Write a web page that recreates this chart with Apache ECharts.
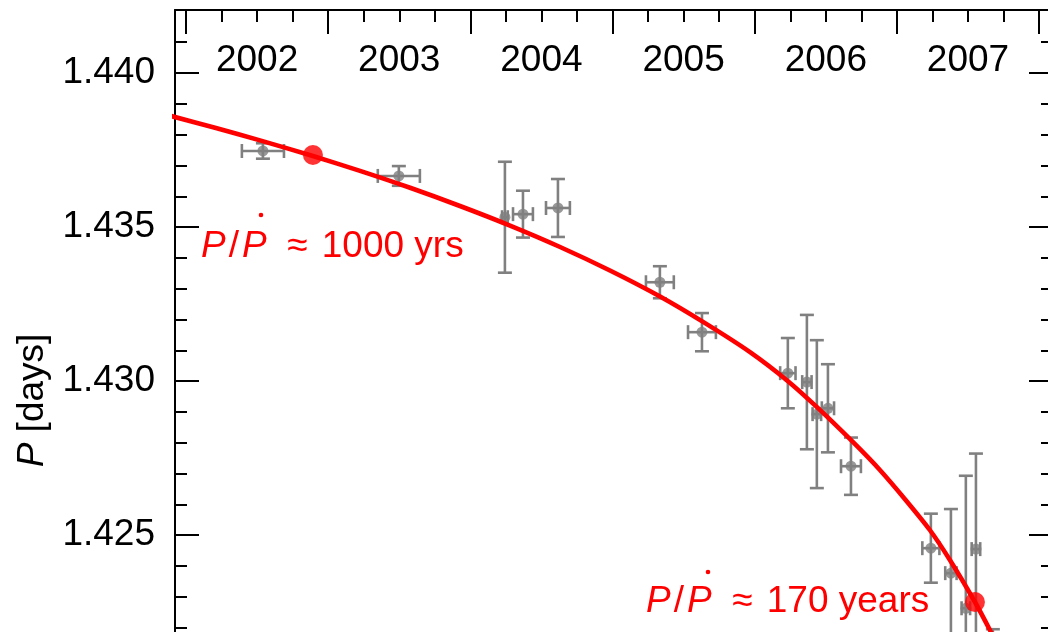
<!DOCTYPE html>
<html>
<head>
<meta charset="utf-8">
<script src="https://cdn.jsdelivr.net/npm/echarts@6/dist/echarts.min.js"></script>
<style>
  html, body { margin: 0; padding: 0; background: #ffffff; }
  #chart { width: 1048px; height: 632px; }
</style>
</head>
<body>
<div id="chart"></div>
<script>
// Orbital period measurements: epoch (yr), period (days) and their 1-sigma errors
const epoch     = [2002.541, 2003.497, 2004.243, 2004.370, 2004.616, 2005.333, 2005.629, 2006.233, 2006.367, 2006.437, 2006.515, 2006.677, 2007.239, 2007.380, 2007.485, 2007.556, 2007.675];
const epochErr  = [0.148, 0.148, 0.02, 0.07, 0.084, 0.098, 0.098, 0.054, 0.033, 0.03, 0.043, 0.07, 0.06, 0.04, 0.03, 0.03, 0.04];
const period    = [1.43747, 1.43666, 1.43532, 1.43542, 1.43562, 1.43321, 1.43159, 1.43026, 1.42997, 1.42893, 1.42912, 1.42724, 1.42458, 1.42377, 1.42263, 1.42455, 1.42105];
const periodErr = [0.00025, 0.00032, 0.0018, 0.00076, 0.00094, 0.00052, 0.00062, 0.00114, 0.00218, 0.0024, 0.00143, 0.00093, 0.00112, 0.00208, 0.0043, 0.0031, 0.0009];

// Fitted period-decay curve
const fitEpoch  = [2001.8875, 2002.204, 2002.5205, 2002.893, 2003.224, 2003.576, 2003.927, 2004.279, 2004.631, 2004.982, 2005.334, 2005.651, 2005.967, 2006.234, 2006.438, 2006.692, 2006.882, 2007.057, 2007.233, 2007.374, 2007.550, 2007.655, 2007.761, 2007.866];
const fitPeriod = [1.438614, 1.438224, 1.437815, 1.437305, 1.436825, 1.436276, 1.435685, 1.435049, 1.434354, 1.433591, 1.432747, 1.431883, 1.430942, 1.430000, 1.429156, 1.428019, 1.427110, 1.426169, 1.425162, 1.424188, 1.422825, 1.421916, 1.420942, 1.419903];

// Epochs at which the decay timescale P/Pdot is quoted
const markEpoch  = [2002.893, 2007.549];
const markPeriod = [1.43734, 1.42283];
const markText   = ['1000 yrs', '170 years'];

// Axis ticks and labels
const yearTicks   = [2002, 2003, 2004, 2005, 2006, 2007, 2008];
const yearLabels  = ['2002', '2003', '2004', '2005', '2006', '2007'];
const periodTicks = [1.420, 1.425, 1.430, 1.435, 1.440];
const periodLabels = ['1.420', '1.425', '1.430', '1.435', '1.440'];

const X_MIN = 2001.9226, X_MAX = 2008.098;
const Y_MIN = 1.4167,    Y_MAX = 1.442045;

const FONT = '"Liberation Sans", Arial, Helvetica, sans-serif';
const FS = 37;
const GRAY = '#808080';
const RED = '#ff0000';

// Minor ticks: quarter years, every 0.001 day
const yearMinor = [];
for (let y = 2002; y < 2008; y++) { [0.25, 0.5, 0.75].forEach(f => yearMinor.push(y + f)); }
const periodMinor = [];
for (let k = 1417; k <= 1441; k++) { if (k % 5 !== 0) periodMinor.push(k / 1000); }

const yearLabelPos = yearLabels.map(s => Number(s) + 0.5);

const tickLine = { color: '#000', width: 2 };

function xAxisBase(extra) {
  return Object.assign({
    type: 'value', position: 'top', min: X_MIN, max: X_MAX,
    splitLine: { show: false },
    axisLine: { show: true, lineStyle: tickLine }
  }, extra);
}
function yAxisBase(extra) {
  return Object.assign({
    type: 'value', min: Y_MIN, max: Y_MAX,
    splitLine: { show: false },
    axisLine: { show: true, lineStyle: tickLine }
  }, extra);
}

const errData = epoch.map((x, i) => [x, period[i], epochErr[i], periodErr[i]]);

const chart = echarts.init(document.getElementById('chart'), null, { renderer: 'canvas' });

chart.setOption({
  animation: false,
  backgroundColor: '#ffffff',
  grid: {
    left: 175, top: 10, right: -5, bottom: -159,
    containLabel: false, outerBoundsMode: 'none'
  },
  xAxis: [
    xAxisBase({
      axisTick: { show: true, inside: true, length: 24, customValues: yearTicks, lineStyle: tickLine },
      axisLabel: {
        show: true, inside: true, margin: 32, customValues: yearLabelPos,
        formatter: v => yearLabels[Math.round(v - 0.5) - 2002],
        color: '#000', fontSize: FS, fontFamily: FONT
      }
    }),
    xAxisBase({
      axisLine: { show: false },
      axisTick: { show: true, inside: true, length: 12, customValues: yearMinor, lineStyle: tickLine },
      axisLabel: { show: false }
    }),
    xAxisBase({
      position: 'bottom',
      axisTick: { show: true, inside: true, length: 24, customValues: yearTicks, lineStyle: tickLine },
      axisLabel: { show: false }
    })
  ],
  yAxis: [
    yAxisBase({
      position: 'left',
      axisTick: { show: true, inside: true, length: 24, customValues: periodTicks, lineStyle: tickLine },
      axisLabel: {
        show: true, margin: 20, customValues: periodTicks,
        formatter: v => periodLabels[periodTicks.findIndex(t => Math.abs(t - v) < 1e-7)],
        color: '#000', fontSize: FS, fontFamily: FONT
      },
      name: '{i|P} [days]',
      nameLocation: 'middle', nameRotate: 90, nameGap: 103,
      nameTextStyle: {
        color: '#000', fontSize: FS, fontFamily: FONT,
        rich: { i: { fontStyle: 'italic', fontSize: FS, fontFamily: FONT, color: '#000' } }
      }
    }),
    yAxisBase({
      position: 'left', axisLine: { show: false },
      axisTick: { show: true, inside: true, length: 12, customValues: periodMinor, lineStyle: tickLine },
      axisLabel: { show: false }
    }),
    yAxisBase({
      position: 'right',
      axisTick: { show: true, inside: true, length: 24, customValues: periodTicks, lineStyle: tickLine },
      axisLabel: { show: false }
    }),
    yAxisBase({
      position: 'right', axisLine: { show: false },
      axisTick: { show: true, inside: true, length: 12, customValues: periodMinor, lineStyle: tickLine },
      axisLabel: { show: false }
    })
  ],
  series: [
    {
      // error bars with end caps
      type: 'custom',
      xAxisIndex: 0, yAxisIndex: 0,
      clip: true, z: 2,
      data: errData,
      renderItem: function (params, api) {
        const x = api.value(0), y = api.value(1), ex = api.value(2), ey = api.value(3);
        const t = api.coord([x, y + ey]), b = api.coord([x, y - ey]);
        const l = api.coord([x - ex, y]), r = api.coord([x + ex, y]);
        const cap = 7;
        const style = { stroke: GRAY, lineWidth: 2.6, fill: null };
        const seg = (x1, y1, x2, y2) => ({ type: 'line', shape: { x1, y1, x2, y2 }, style });
        return {
          type: 'group',
          children: [
            seg(t[0], t[1], b[0], b[1]),
            seg(t[0] - cap, t[1], t[0] + cap, t[1]),
            seg(b[0] - cap, b[1], b[0] + cap, b[1]),
            seg(l[0], l[1], r[0], r[1]),
            seg(l[0], l[1] - cap, l[0], l[1] + cap),
            seg(r[0], r[1] - cap, r[0], r[1] + cap)
          ]
        };
      }
    },
    {
      type: 'scatter', xAxisIndex: 0, yAxisIndex: 0, z: 3,
      symbol: 'circle', symbolSize: 11,
      itemStyle: { color: GRAY },
      data: epoch.map((x, i) => [x, period[i]])
    },
    {
      type: 'line', xAxisIndex: 0, yAxisIndex: 0, z: 4,
      showSymbol: false, smooth: 0.25,
      lineStyle: { color: RED, width: 4.6 },
      data: fitEpoch.map((x, i) => [x, fitPeriod[i]])
    },
    {
      type: 'scatter', xAxisIndex: 0, yAxisIndex: 0, z: 5,
      symbol: 'circle', symbolSize: 20,
      itemStyle: { color: RED },
      data: markEpoch.map((x, i) => [x, markPeriod[i]])
    }
  ]
});

// P/Pdot annotations (text placed beside the marked epochs)
const annot = [
  { x: 201, base: 265, dot: [261, 215] },
  { x: 646, base: 620, dot: [708, 572] }
];
const rich = {
  i: { fontStyle: 'italic', fontSize: FS, fontFamily: FONT, fill: RED },
  s: { fontSize: FS, fontFamily: FONT, fill: RED, padding: [0, 3, 0, 3] },
  a: { fontSize: FS, fontFamily: FONT, fill: RED, padding: [0, 4, 0, 0] },
  n: { fontSize: FS, fontFamily: FONT, fill: RED }
};
const graphics = [];
annot.forEach((a, k) => {
  graphics.push({
    type: 'text', x: a.x, y: a.base, z: 10,
    style: {
      text: '{i|P}{s|/}{i|P}{a|  \u2248}{n| ' + markText[k] + '}',
      rich: rich, fill: RED, fontSize: FS, fontFamily: FONT,
      verticalAlign: 'bottom'
    }
  });
  graphics.push({
    type: 'circle', z: 10,
    shape: { cx: a.dot[0], cy: a.dot[1], r: 2.3 },
    style: { fill: RED }
  });
});
chart.setOption({ graphic: graphics });
</script>
</body>
</html>
